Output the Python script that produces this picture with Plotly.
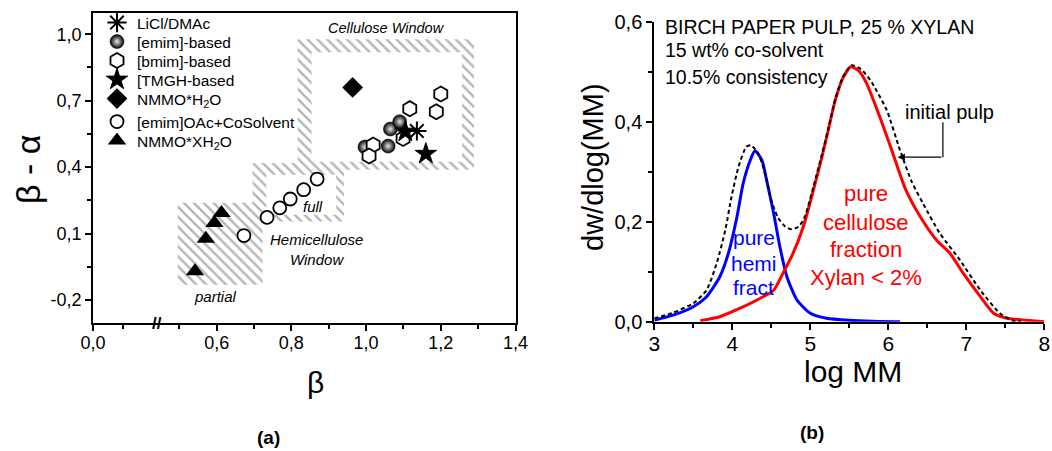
import plotly.graph_objects as go

FONT = "Liberation Sans, Arial, sans-serif"

# ---------------- Panel (a) data ----------------
licl_x = [1.136]
licl_y = [0.563]
emim_x = [0.997, 1.059, 1.065, 1.090]
emim_y = [0.491, 0.495, 0.572, 0.605]
bmim_x = [1.200, 1.188, 1.117, 1.019, 1.008, 1.099]
bmim_y = [0.730, 0.650, 0.664, 0.500, 0.450, 0.529]
tmgh_x = [1.105, 1.160]
tmgh_y = [0.560, 0.460]
nmmo_x = [0.964]
nmmo_y = [0.760]
cosolv_x = [0.673, 0.735, 0.769, 0.797, 0.833, 0.869]
cosolv_y = [0.091, 0.173, 0.216, 0.256, 0.298, 0.346]
nmmox_x = [0.542, 0.571, 0.594, 0.613]
nmmox_y = [-0.070, 0.076, 0.148, 0.193]

# windows (x0, x1, y0, y1)
cell_outer = [0.817, 1.289, 0.388, 0.977]
cell_inner = [0.854, 1.257, 0.424, 0.919]
full_outer = [0.696, 0.941, 0.154, 0.419]
full_inner = [0.733, 0.920, 0.185, 0.365]
partial_win = [0.496, 0.723, -0.131, 0.239]

xa_ticks = [0.269, 0.6, 0.8, 1.0, 1.2, 1.4]
xa_labels = ["0,0", "0,6", "0,8", "1,0", "1,2", "1,4"]
ya_ticks = [-0.2, 0.1, 0.4, 0.7, 1.0]
ya_labels = ["-0,2", "0,1", "0,4", "0,7", "1,0"]

# ---------------- Panel (b) data ----------------
blue_x = [3.0, 3.24, 3.5, 3.67, 3.84, 3.95, 4.06, 4.14, 4.23, 4.29, 4.38, 4.44,
          4.53, 4.61, 4.70, 4.83, 5.0, 5.21, 5.5, 5.8, 6.15]
blue_y = [0.003, 0.013, 0.030, 0.050, 0.090, 0.137, 0.210, 0.277, 0.323, 0.342,
          0.323, 0.283, 0.217, 0.150, 0.090, 0.043, 0.017, 0.007, 0.003, 0.001, 0.0]

red_x = [3.59, 3.84, 4.1, 4.36, 4.53, 4.65, 4.78, 4.91, 5.04, 5.15, 5.23, 5.32,
         5.42, 5.52, 5.62, 5.72, 5.89, 6.04, 6.22, 6.41, 6.62, 6.79, 6.96, 7.18,
         7.35, 7.52, 7.77, 8.0]
red_y = [0.002, 0.010, 0.027, 0.047, 0.063, 0.097, 0.137, 0.190, 0.263, 0.330,
         0.383, 0.443, 0.488, 0.510, 0.502, 0.477, 0.410, 0.345, 0.265, 0.210,
         0.163, 0.137, 0.097, 0.050, 0.017, 0.007, 0.003, 0.0]

dash_x = [3.0, 3.24, 3.5, 3.67, 3.8, 3.91, 3.99, 4.08, 4.18, 4.24, 4.33, 4.42,
          4.5, 4.59, 4.68, 4.76, 4.85, 4.93, 5.04, 5.15, 5.23, 5.32, 5.42, 5.53,
          5.65, 5.77, 5.98, 6.15, 6.30, 6.45, 6.66, 6.92, 7.18, 7.43, 7.6, 7.7]
dash_y = [0.007, 0.018, 0.037, 0.063, 0.117, 0.183, 0.250, 0.310, 0.350, 0.353,
          0.337, 0.297, 0.243, 0.207, 0.190, 0.185, 0.190, 0.210, 0.270, 0.335,
          0.385, 0.445, 0.490, 0.513, 0.505, 0.483, 0.423, 0.343, 0.280, 0.235,
          0.177, 0.123, 0.063, 0.017, 0.002, 0.0]

xb_ticks = [3, 4, 5, 6, 7, 8]
yb_ticks = [0.0, 0.2, 0.4, 0.6]

W, H = 1052, 451


def px(xp):
    return xp / W


def py(yp):
    return (H - yp) / H


def rect(r):
    x0, x1, y0, y1 = r
    return [x0, x1, x1, x0, x0], [y0, y0, y1, y1, y0]


fig = go.Figure()

# hatched windows
for r in (partial_win, full_outer, cell_outer):
    xs, ys = rect(r)
    fig.add_trace(go.Scatter(
        x=xs, y=ys, mode="lines", fill="toself", line=dict(width=0),
        fillcolor="white",
        fillpattern=dict(shape="\\", fgcolor="#6a6a6a", bgcolor="white",
                         size=7, solidity=0.33),
        showlegend=False, hoverinfo="skip", xaxis="x", yaxis="y"))
for r in (full_inner, cell_inner):
    xs, ys = rect(r)
    fig.add_trace(go.Scatter(
        x=xs, y=ys, mode="lines", fill="toself", line=dict(width=0),
        fillcolor="white", showlegend=False, hoverinfo="skip",
        xaxis="x", yaxis="y"))

LW = 1.8
fig.add_trace(go.Scatter(
    x=emim_x, y=emim_y, mode="markers", name="[emim]-based", legend="legend2",
    marker=dict(symbol="circle", size=14, color="black",
                gradient=dict(type="radial", color="#e6e6e6"),
                line=dict(width=0.5, color="black"))))
fig.add_trace(go.Scatter(
    x=bmim_x, y=bmim_y, mode="markers", name="[bmim]-based", legend="legend3",
    marker=dict(symbol="hexagon", size=15, color="white",
                line=dict(width=LW, color="black"))))
fig.add_trace(go.Scatter(
    x=tmgh_x, y=tmgh_y, mode="markers", name="[TMGH-based", legend="legend4",
    marker=dict(symbol="star", size=16, color="black",
                line=dict(width=1, color="black"))))
fig.add_trace(go.Scatter(
    x=licl_x, y=licl_y, mode="markers", name="LiCl/DMAc", legend="legend",
    marker=dict(symbol="asterisk-open", size=16, color="black",
                line=dict(width=2, color="black"))))
fig.add_trace(go.Scatter(
    x=nmmo_x, y=nmmo_y, mode="markers", name="NMMO*H<sub>2</sub>O",
    legend="legend5",
    marker=dict(symbol="diamond", size=16, color="black",
                line=dict(width=0, color="black"))))
fig.add_trace(go.Scatter(
    x=cosolv_x, y=cosolv_y, mode="markers", name="[emim]OAc+CoSolvent",
    legend="legend6",
    marker=dict(symbol="circle", size=13, color="white",
                line=dict(width=LW, color="black"))))
fig.add_trace(go.Scatter(
    x=nmmox_x, y=nmmox_y, mode="markers", name="NMMO*XH<sub>2</sub>O",
    legend="legend7",
    marker=dict(symbol="triangle-up", size=16, color="black",
                line=dict(width=0, color="black"))))

# panel (b) curves
fig.add_trace(go.Scatter(
    x=blue_x, y=blue_y, mode="lines", line=dict(color="#0000ff", width=3,
                                                 shape="spline", smoothing=0.6),
    showlegend=False, xaxis="x2", yaxis="y2"))
fig.add_trace(go.Scatter(
    x=red_x, y=red_y, mode="lines", line=dict(color="#ff0000", width=3,
                                               shape="spline", smoothing=0.6),
    showlegend=False, xaxis="x2", yaxis="y2"))
fig.add_trace(go.Scatter(
    x=dash_x, y=dash_y, mode="lines",
    line=dict(color="black", width=2, dash="4px,3px", shape="spline",
              smoothing=0.6),
    showlegend=False, xaxis="x2", yaxis="y2"))

tick_font = dict(family=FONT, size=18, color="black")
ann = []


def A(text, x, y, xref="paper", yref="paper", size=14, color="black",
      italic=False, bold=False, angle=0, xanchor="center", yanchor="middle"):
    t = text
    if italic:
        t = "<i>" + t + "</i>"
    if bold:
        t = "<b>" + t + "</b>"
    ann.append(dict(text=t, x=x, y=y, xref=xref, yref=yref, showarrow=False,
                    font=dict(family=FONT, size=size, color=color),
                    textangle=angle, xanchor=xanchor, yanchor=yanchor))


# panel (a) texts
A("Cellulose Window", 1.055, 1.028, "x", "y", size=14.5, italic=True)
A("full", 0.858, 0.221, "x", "y", size=15, italic=True)
A("Hemicellulose", 0.868, 0.071, "x", "y", size=15, italic=True)
A("Window", 0.868, -0.015, "x", "y", size=15, italic=True)
A("partial", 0.597, -0.186, "x", "y", size=15, italic=True)
A("<b>//</b>", 0.44, -0.304, "x", "y", size=17)
A("β - α", px(28), py(170), size=34, angle=-90)
A("β", px(315), py(382), size=30)
A("(a)", px(268), py(437), size=19, bold=True)

# panel (b) texts
A("BIRCH PAPER PULP, 25 % XYLAN", 3.11, 0.589, "x2", "y2", size=19.5,
  xanchor="left")
A("15 wt% co-solvent", 3.11, 0.543, "x2", "y2", size=19.5, xanchor="left")
A("10.5% consistency", 3.11, 0.489, "x2", "y2", size=19.5, xanchor="left")
A("initial pulp", 6.79, 0.419, "x2", "y2", size=20)
for t, yy in zip(["pure", "hemi", "fract"], [0.169, 0.117, 0.069]):
    A(t, 4.278, yy, "x2", "y2", size=21, color="#0000ff")
for t, yy in zip(["pure", "cellulose", "fraction", "Xylan < 2%"],
                 [0.257, 0.199, 0.145, 0.089]):
    A(t, 5.714, yy, "x2", "y2", size=22, color="#ff0000")
A("log MM", px(853), py(371), size=30)
A("dw/dlog(MM)", px(593), py(167), size=29, angle=-90)
A("(b)", px(812), py(432), size=19, bold=True)

# arrow for "initial pulp"
ann.append(dict(x=6.12, y=0.329, ax=6.70, ay=0.329, xref="x2", yref="y2",
                axref="x2", ayref="y2", text="", showarrow=True,
                arrowhead=2, arrowsize=1.2, arrowwidth=1.2, arrowcolor="black"))

shapes = [dict(type="line", xref="x2", yref="y2", x0=6.70, x1=6.70,
               y0=0.399, y1=0.329, line=dict(color="black", width=1.2))]

# one legend per row so that row spacing follows the reference
legend_rows = [23, 42, 61, 80, 99, 122, 141]
legends = {}
for i, row in enumerate(legend_rows):
    key = "legend" if i == 0 else "legend%d" % (i + 1)
    legends[key] = dict(x=px(97), y=py(row), xanchor="left", yanchor="middle",
                        bgcolor="rgba(0,0,0,0)", borderwidth=0,
                        font=dict(family=FONT, size=15.5, color="black"),
                        itemsizing="trace")

fig.update_layout(
    width=W, height=H, margin=dict(l=0, r=0, t=0, b=0, autoexpand=False),
    paper_bgcolor="white", plot_bgcolor="white",
    separators=",.",
    font=dict(family=FONT, color="black"),
    showlegend=True,
    xaxis=dict(domain=[px(93), px(515.5)], range=[0.269, 1.4],
               showline=True, linecolor="black", linewidth=1.5, mirror=True,
               ticks="outside", ticklen=6, tickwidth=1.5, tickcolor="black",
               tickvals=xa_ticks, ticktext=xa_labels, tickfont=tick_font,
               ticklabelstandoff=-3,
               minor=dict(tickvals=[0.349, 0.5, 0.7, 0.9, 1.1, 1.3],
                          ticks="outside", ticklen=4, tickwidth=1.5,
                          tickcolor="black"),
               showgrid=False, zeroline=False, anchor="y", automargin=False),
    yaxis=dict(domain=[py(323), py(13)], range=[-0.304, 1.096],
               showline=True, linecolor="black", linewidth=1.5, mirror=True,
               ticks="outside", ticklen=6, tickwidth=1.5, tickcolor="black",
               tickvals=ya_ticks, ticktext=ya_labels, tickfont=tick_font,
               minor=dict(tickvals=[-0.05, 0.25, 0.55, 0.85],
                          ticks="outside", ticklen=4, tickwidth=1.5,
                          tickcolor="black"),
               showgrid=False, zeroline=False, anchor="x", automargin=False),
    xaxis2=dict(domain=[px(654.3), px(1044.3)], range=[3, 8],
                showline=True, linecolor="black", linewidth=2,
                ticks="outside", ticklen=6, tickwidth=2, tickcolor="black",
                tickvals=xb_ticks, tickfont=dict(family=FONT, size=21,
                                                 color="black"),
                ticklabelstandoff=-4,
                minor=dict(dtick=0.5, ticks="outside", ticklen=4,
                           tickwidth=1.5, tickcolor="black"),
                showgrid=False, zeroline=False, anchor="y2", automargin=False),
    yaxis2=dict(domain=[py(321.7), py(21.7)], range=[0, 0.6],
                showline=True, linecolor="black", linewidth=2,
                ticks="outside", ticklen=6, tickwidth=2, tickcolor="black",
                tickvals=yb_ticks, tickformat=".1f",
                tickfont=dict(family=FONT, size=20, color="black"),
                minor=dict(tickvals=[0.1, 0.3, 0.5], ticks="outside",
                           ticklen=4, tickwidth=1.5, tickcolor="black"),
                showgrid=False, zeroline=False, anchor="x2", automargin=False),
    annotations=ann,
    shapes=shapes,
    **legends,
)

fig.write_html("out.html")
